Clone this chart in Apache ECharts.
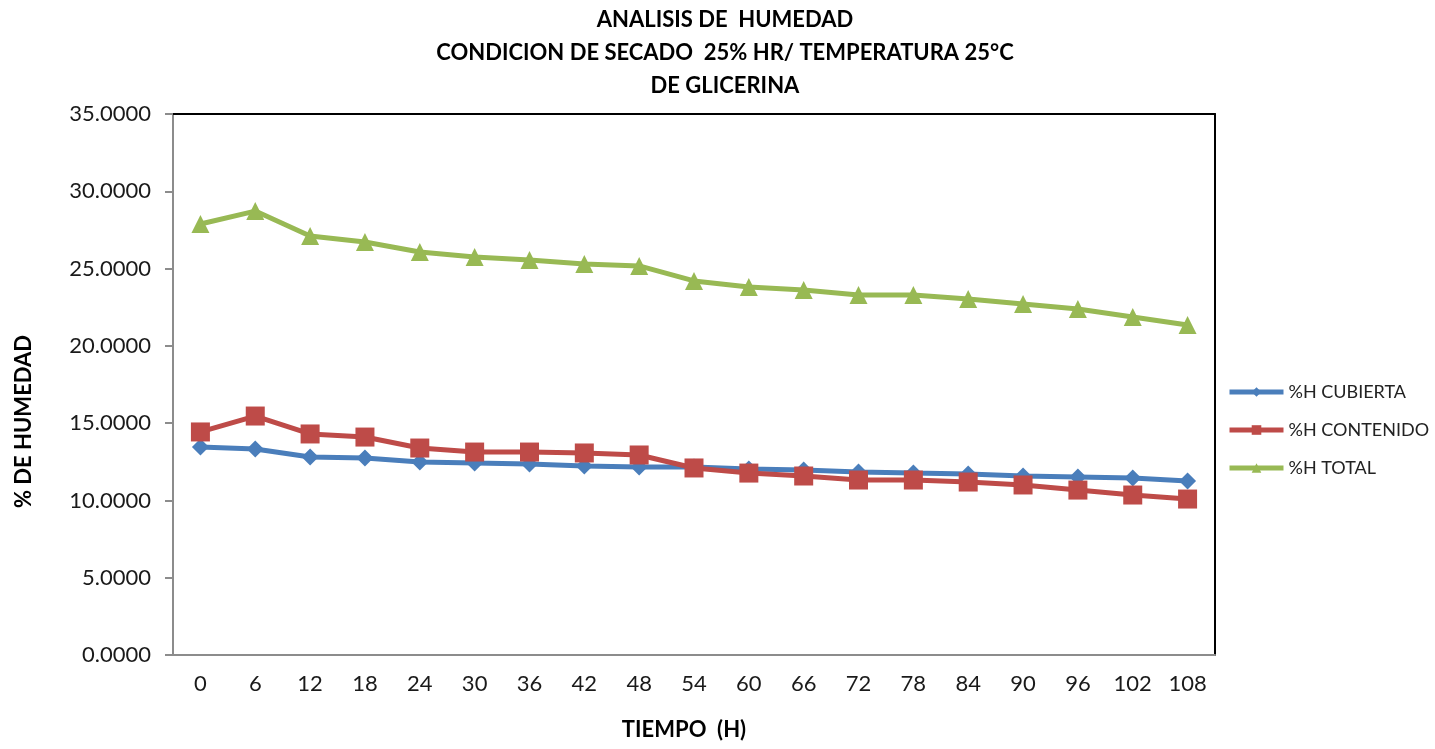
<!DOCTYPE html>
<html><head><meta charset="utf-8">
<script src="https://cdn.jsdelivr.net/npm/echarts@6/dist/echarts.min.js"></script>
<style>html,body{margin:0;padding:0;background:#fff}#c{width:1435px;height:749px}</style>
</head><body><div id="c"></div>
<script>
const categories = ['0','6','12','18','24','30','36','42','48','54','60','66','72','78','84','90','96','102','108'];
const cubierta = [13.46,13.33,12.81,12.74,12.49,12.42,12.36,12.23,12.16,12.16,12.03,11.97,11.84,11.77,11.71,11.58,11.52,11.45,11.26];
const contenido = [14.43,15.46,14.30,14.10,13.39,13.13,13.13,13.07,12.94,12.10,11.77,11.58,11.32,11.32,11.19,11.00,10.67,10.35,10.09];
const total = [27.88,28.72,27.11,26.72,26.07,25.75,25.55,25.30,25.17,24.20,23.81,23.61,23.29,23.29,23.03,22.71,22.38,21.87,21.35];
const titleText = 'ANALISIS DE  HUMEDAD\nCONDICION DE SECADO  25% HR/ TEMPERATURA 25°C\nDE GLICERINA';

const FONT = 'Lato';
const chart = echarts.init(document.getElementById('c'), null, {renderer:'canvas'});
chart.setOption({
  animation:false,
  backgroundColor:'#fff',
  title:{text:titleText,left:720,textAlign:'center',top:-2,
    textStyle:{fontFamily:FONT,fontSize:22,fontWeight:'bold',color:'#000',lineHeight:33}},
  grid:{left:173,right:220,top:114,bottom:94,containLabel:false},
  legend:{orient:'vertical',left:1222,top:378,itemGap:20,itemWidth:54,itemHeight:12,
    lineStyle:{width:5},
    textStyle:{fontFamily:FONT,fontSize:18,color:'#222'},
    data:['%H CUBIERTA','%H CONTENIDO','%H TOTAL']},
  xAxis:[{type:'category',data:categories,boundaryGap:true,
    axisLine:{lineStyle:{color:'#8c8c8c',width:2}},axisTick:{show:false},
    axisLabel:{fontFamily:FONT,fontSize:22,color:'#1a1a1a',margin:18},
    name:'TIEMPO  (H)',nameLocation:'middle',nameGap:64,
    nameTextStyle:{fontFamily:FONT,fontSize:22,fontWeight:'bold',color:'#000',padding:[0,20,0,0]}},
   {type:'category',data:categories,position:'top',
    axisLine:{onZero:false,lineStyle:{color:'#000',width:2}},axisTick:{show:false},axisLabel:{show:false}}],
  yAxis:[{type:'value',min:0,max:35,interval:5,
    axisLine:{show:true,lineStyle:{color:'#8c8c8c',width:2}},
    axisTick:{show:true,length:8,lineStyle:{color:'#8c8c8c',width:2}},
    splitLine:{show:false},
    axisLabel:{fontFamily:FONT,fontSize:22,color:'#1a1a1a',margin:22,formatter:v=>v.toFixed(4)},
    name:'% DE HUMEDAD',nameLocation:'middle',nameGap:138,
    nameTextStyle:{fontFamily:FONT,fontSize:22,fontWeight:'bold',color:'#000',padding:[0,74,0,0]}},
   {type:'value',min:0,max:35,interval:5,position:'right',
    axisLine:{show:true,onZero:false,lineStyle:{color:'#000',width:2}},axisTick:{show:false},
    axisLabel:{show:false},splitLine:{show:false}}],
  series:[
    {name:'%H CUBIERTA',type:'line',data:cubierta,color:'#4A7EBB',symbol:'diamond',symbolSize:17,
     lineStyle:{width:5},itemStyle:{color:'#4A7EBB'}},
    {name:'%H CONTENIDO',type:'line',data:contenido,color:'#BE4B48',symbol:'rect',symbolSize:19,
     lineStyle:{width:5},itemStyle:{color:'#BE4B48'}},
    {name:'%H TOTAL',type:'line',data:total,color:'#98B954',symbol:'triangle',symbolSize:18,
     lineStyle:{width:5},itemStyle:{color:'#98B954'}}
  ]
});
</script></body></html>
